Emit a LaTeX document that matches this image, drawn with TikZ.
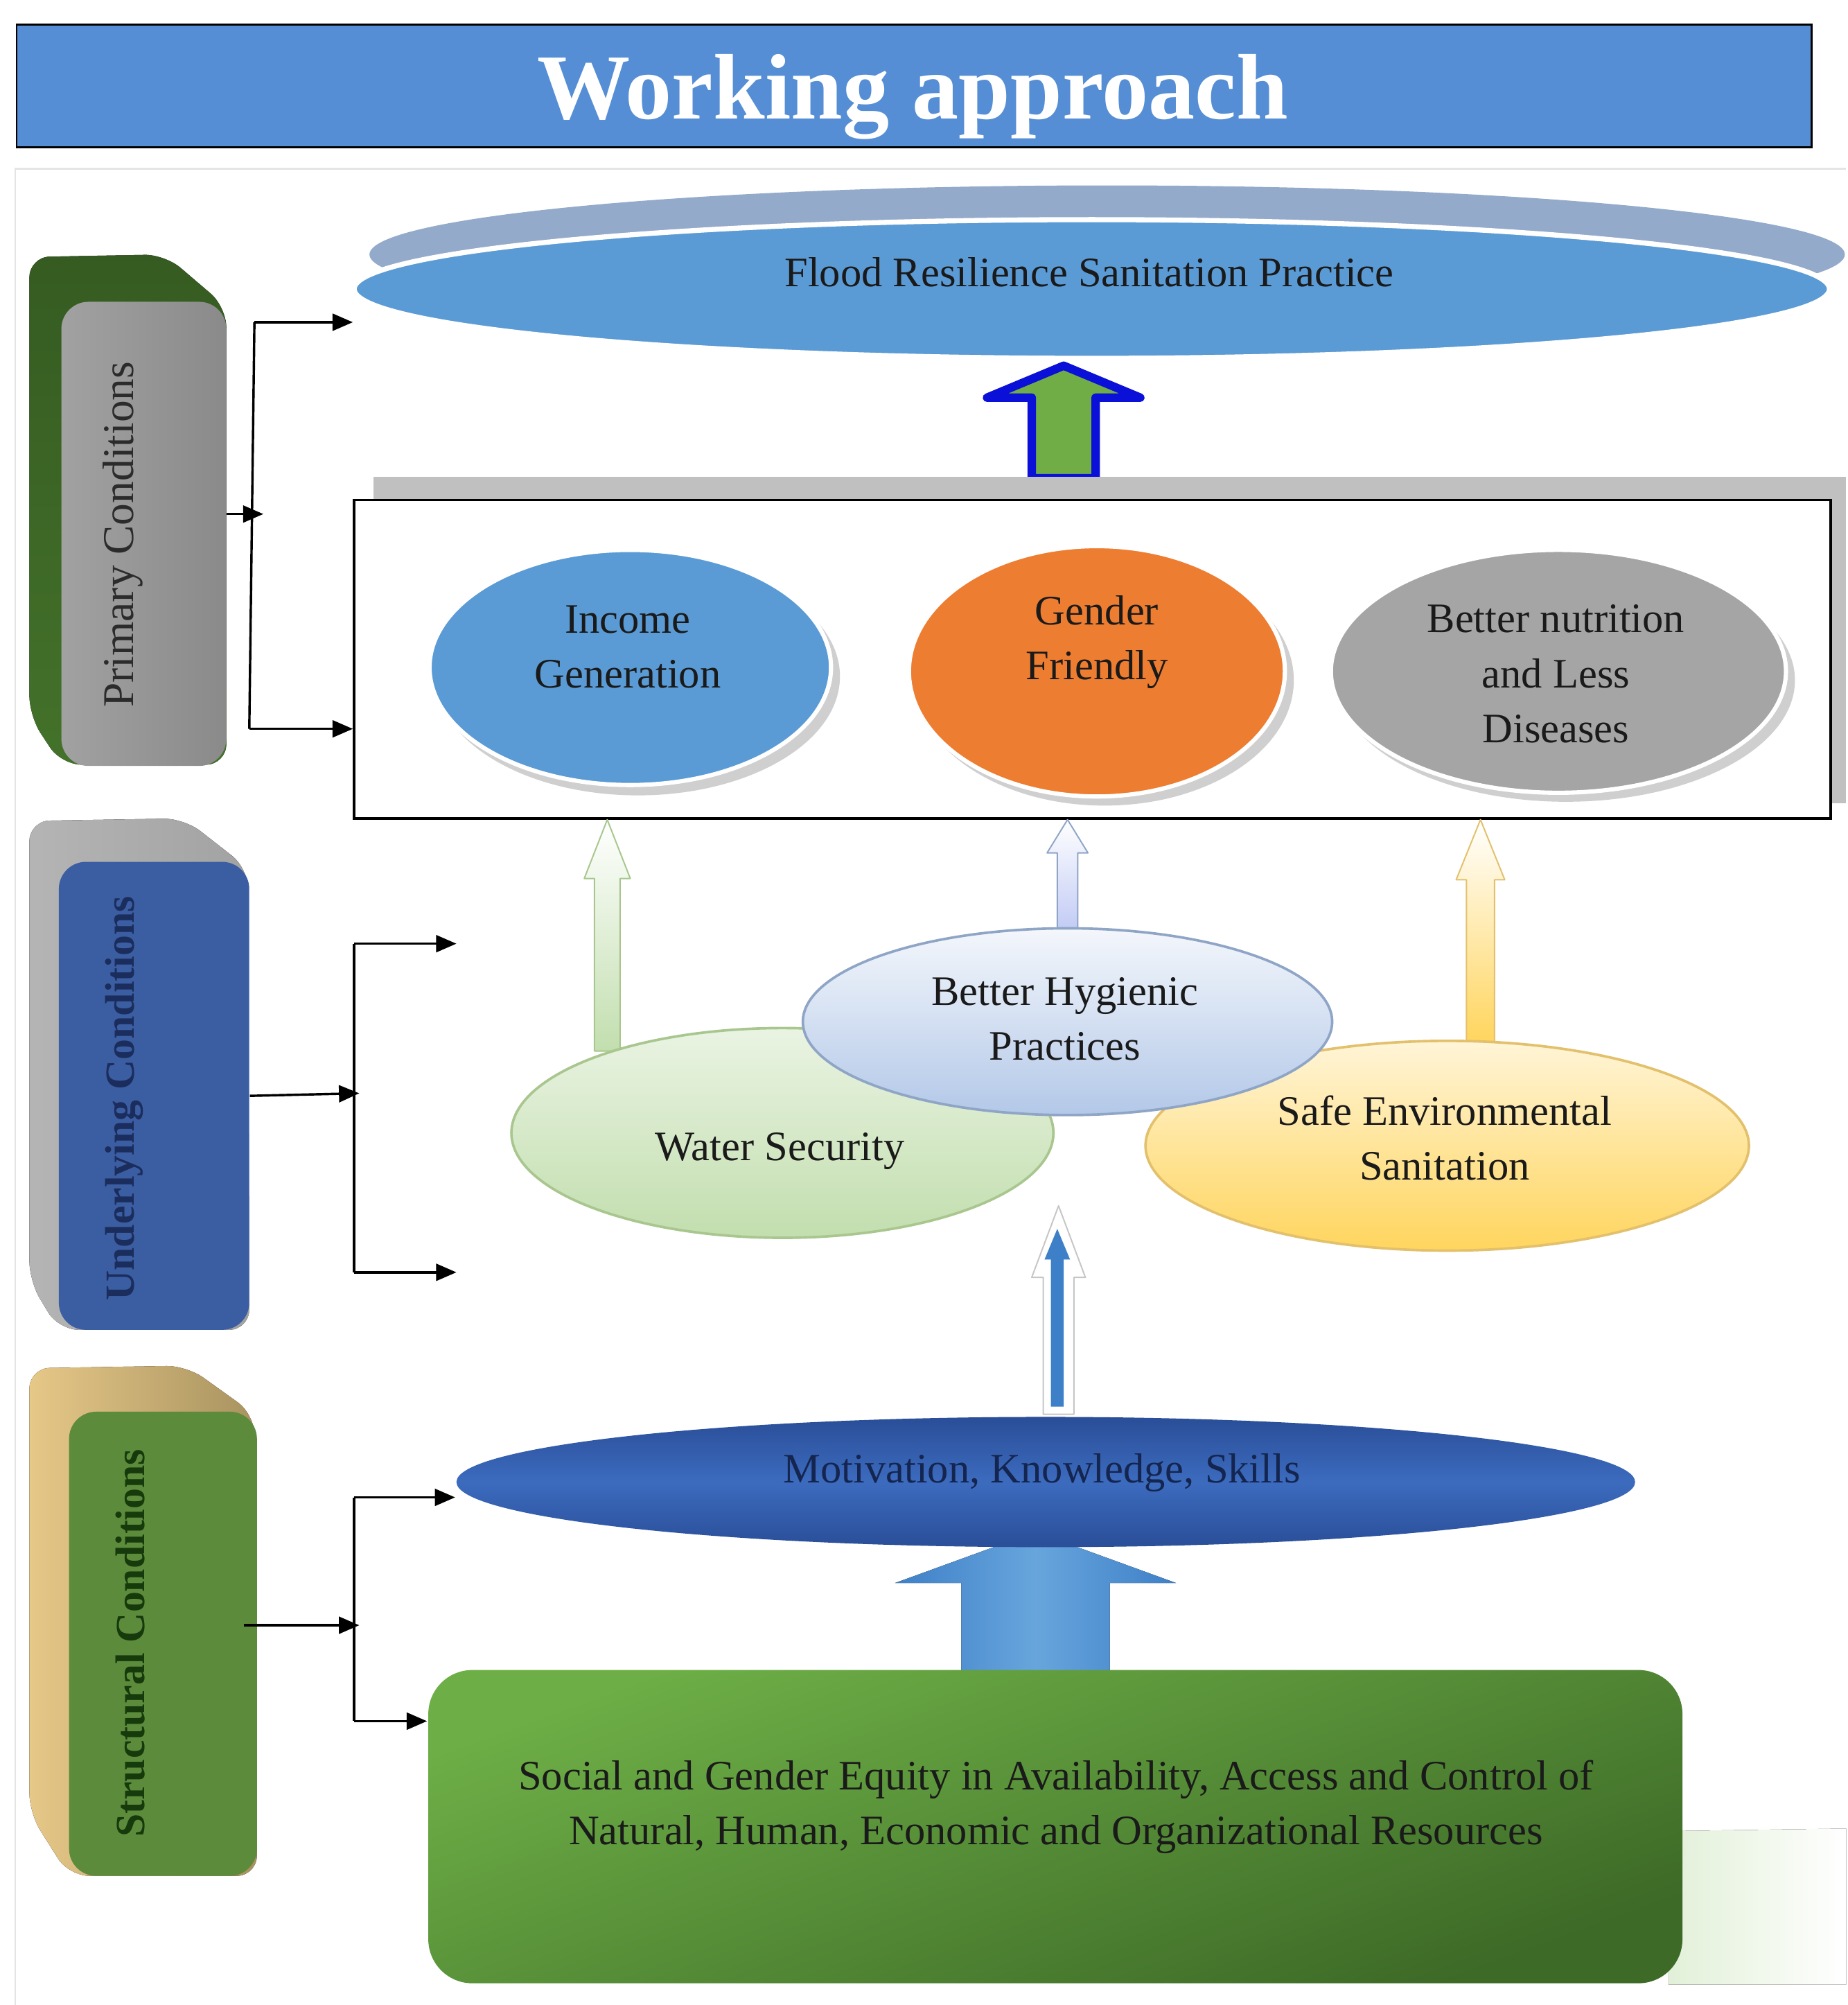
\documentclass[tikz,border=0pt]{standalone}
\usepackage{fontspec}
\setmainfont{Liberation Serif}
\usetikzlibrary{shapes.geometric,arrows.meta}

\definecolor{titleblue}{HTML}{558ED5}
\definecolor{framegray}{HTML}{E4E4E4}
\definecolor{floodblue}{HTML}{5B9BD5}
\definecolor{floodshadow}{HTML}{93AACA}
\definecolor{arrowblue}{HTML}{0A10D8}
\definecolor{arrowgreen}{HTML}{70AD47}
\definecolor{bargray}{HTML}{C0C0C0}
\definecolor{ringgray}{HTML}{CFCFCF}
\definecolor{incomeblue}{HTML}{5B9BD5}
\definecolor{genderorange}{HTML}{ED7D31}
\definecolor{nutritiongray}{HTML}{A5A5A5}
\definecolor{textdark}{HTML}{1A1A1A}
\definecolor{wsgreen}{HTML}{C2DEAE}
\definecolor{wsedge}{HTML}{A8C68E}
\definecolor{hygblue}{HTML}{B3C8E8}
\definecolor{hygedge}{HTML}{8FA5C6}
\definecolor{safeyellow}{HTML}{FFD55E}
\definecolor{safeedge}{HTML}{E2C06C}
\definecolor{skillsblue}{HTML}{3C6BBE}
\definecolor{skillsdark}{HTML}{2A4E98}
\definecolor{skillstext}{HTML}{14254F}
\definecolor{bigarrow}{HTML}{3E80C8}
\definecolor{bigarrowlight}{HTML}{67A5DC}
\definecolor{resgreen}{HTML}{6DAE46}
\definecolor{resdark}{HTML}{3D6A27}
\definecolor{resshadow}{HTML}{E2F0D8}
\definecolor{tabgray}{HTML}{8A8A8A}
\definecolor{tabblue}{HTML}{3B5EA3}
\definecolor{tabgreen}{HTML}{5C8B3B}
\definecolor{backgreen}{HTML}{43722A}
\definecolor{backgray}{HTML}{A2A2A2}
\definecolor{backtan}{HTML}{E6C888}
\definecolor{backtandark}{HTML}{A8925F}
\definecolor{labelgray}{HTML}{2B2B2B}
\definecolor{labelblue}{HTML}{1B2D5C}
\definecolor{labelgreen}{HTML}{163A0C}

\tikzset{every picture/.style={line width=0.75pt}}
\tikzset{
  conn/.style={line width=1.4pt,-{Triangle[length=12pt,width=10pt]}},
  busline/.style={line width=1.4pt},
  oval/.style={ellipse,inner sep=0pt},
  ovaltext/.style={align=center,text=textdark,font=\fontsize{24.8}{32.5}\selectfont},
  tabfront/.style={rectangle,rounded corners=16pt,inner sep=0pt},
  tablabel/.style={rotate=90,inner sep=0pt,font=\fontsize{24.5}{30}\selectfont\bfseries},
  thinup/.style={line width=0.8pt,line join=round},
}

\begin{document}
\begin{tikzpicture}[x=0.756pt,y=0.756pt,yscale=-1,xscale=1]
	\useasboundingbox (0,0) rectangle (1445,1568);

	%Title bar
	\draw [fill=titleblue,line width=1.2pt] (13,19) rectangle (1417,115);
	% Text Node
	\node [text=white,font=\fontsize{55}{60}\selectfont\bfseries] (title) at (714,76) {Working approach};

	%Frame
	\draw [framegray,line width=1pt] (12,1568) -- (12,132) -- (1444,132);

	%Shape: Ellipse (flood) with shadow
	\fill [floodshadow] (866,199) ellipse (577 and 54);
	\node [oval,fill=floodblue,draw=white,line width=3pt,minimum width=872.4pt,minimum height=82pt] (flood) at (854,226) {};
	% Text Node
	\node [ovaltext] (floodtext) at (852,213) {Flood Resilience Sanitation Practice};

	%Shape: Up Arrow
	\draw [line width=5pt,line join=round,draw=arrowblue,fill=arrowgreen] (832,286) -- (892,311) -- (857,311) -- (857,374) -- (807,374) -- (807,311) -- (772,311) -- cycle;

	%Shape: Rectangle (outcomes) with gray bar
	\fill [bargray] (292,373) rectangle (1444,628);
	\draw [line width=1.5pt,fill=white] (277,391) rectangle (1432,640);

	%Shape: Ellipse (income)
	\fill [ringgray] (499,529) ellipse (158 and 93);
	\node [oval,fill=incomeblue,draw=white,line width=2.5pt,minimum width=237.4pt,minimum height=139pt] (income) at (493,522) {};
	\node [ovaltext] (incometext) at (491,506) {Income\\Generation};
	%Shape: Ellipse (gender)
	\fill [ringgray] (864,532) ellipse (148 and 98);
	\node [oval,fill=genderorange,draw=white,line width=2.5pt,minimum width=222.3pt,minimum height=148pt] (gender) at (858,525) {};
	\node [ovaltext] (gendertext) at (858,502) {Gender\\Friendly};
	%Shape: Ellipse (nutrition)
	\fill [ringgray] (1225,532) ellipse (179 and 95);
	\node [oval,fill=nutritiongray,draw=white,line width=2.5pt,minimum width=269.1pt,minimum height=143.6pt] (nutrition) at (1219,525) {};
	\node [ovaltext] (nutritiontext) at (1217,527) {Better nutrition\\and Less\\Diseases};

	%Shape: thin up arrows
	\draw [thinup,draw=wsedge,top color=white,bottom color=wsgreen] (465,822) -- (465,687) -- (457,687) -- (475,641) -- (493,687) -- (485,687) -- (485,822) -- cycle;
	\draw [thinup,draw=hygedge,top color=white,bottom color=hygblue!80!blue!60] (827,735) -- (827,667) -- (819,667) -- (835,641) -- (851,667) -- (843,667) -- (843,735) -- cycle;
	\draw [thinup,draw=safeedge,top color=white,bottom color=safeyellow] (1147,815) -- (1147,688) -- (1139,688) -- (1158,641) -- (1177,688) -- (1169,688) -- (1169,815) -- cycle;

	%Shape: Ellipse (water)
	\node [oval,draw=wsedge,line width=1.5pt,top color=wsgreen!35,bottom color=wsgreen,minimum width=320.5pt,minimum height=124pt] (water) at (612,886) {};
	\node [ovaltext] (watertext) at (610,900) {Water Security};
	%Shape: Ellipse (safe)
	\node [oval,draw=safeedge,line width=1.5pt,top color=safeyellow!25,bottom color=safeyellow,minimum width=356.8pt,minimum height=124pt] (safe) at (1132,896) {};
	\node [ovaltext] (safetext) at (1130,890) {Safe Environmental\\Sanitation};
	%Shape: Ellipse (hygiene)
	\node [oval,draw=hygedge,line width=1.5pt,top color=hygblue!15,bottom color=hygblue,minimum width=313pt,minimum height=110.4pt] (hygiene) at (835,799) {};
	\node [ovaltext] (hygienetext) at (833,797) {Better Hygienic\\Practices};

	%Shape: Up Arrow (skills to middle)
	\draw [thinup,draw=gray!45,fill=white] (816,1106) -- (816,999) -- (807,999) -- (828,943) -- (849,999) -- (840,999) -- (840,1106) -- cycle;
	\fill [bigarrow] (822,1100) -- (822,985) -- (817,985) -- (827,961) -- (837,985) -- (832,985) -- (832,1100) -- cycle;

	%Shape: Block Arrow (resources to skills)
	\fill [shading=axis,left color=bigarrow,right color=bigarrow,middle color=bigarrowlight] (752,1310) -- (752,1238) -- (700,1238) -- (810,1198) -- (920,1238) -- (868,1238) -- (868,1310) -- cycle;

	%Shape: Ellipse (skills)
	\node [oval,top color=skillsdark,bottom color=skillsdark,middle color=skillsblue,minimum width=697pt,minimum height=77pt] (skills) at (818,1159) {};
	\node [ovaltext,text=skillstext] (skillstext) at (815,1152) {Motivation, Knowledge, Skills};

	%Shape: Rounded Rect (resources) with shadow
	\fill [left color=resshadow,right color=white] (1305,1432) -- (1444,1430) -- (1444,1552) -- (1305,1552) -- cycle;
	\node [rectangle,rounded corners=26pt,top color=resgreen,bottom color=resdark,shading angle=20,minimum width=741.6pt,minimum height=185.2pt] (resources) at (825.5,1428.5) {};
	\node [ovaltext] (resourcestext) at (826,1413) {Social and Gender Equity in Availability, Access and Control of\\Natural, Human, Economic and Organizational Resources};

	%Shape: Tab (primary)
	\fill [rounded corners=12pt,top color=backgreen!80!black,bottom color=backgreen] (23,201) -- (129,199) -- (177,240) -- (177,598) -- (48,598) -- (23,560) -- cycle;
	\node [tabfront,left color=tabgray!80!white,right color=tabgray,minimum width=97.5pt,minimum height=274.4pt] (primary) at (112.5,417.5) {};
	\node [tablabel,font=\fontsize{26}{30}\selectfont,text=labelgray] (primarytext) at (96,418) {Primary Conditions};
	%Shape: Tab (underlying)
	\fill [rounded corners=12pt,left color=backgray!80!white,right color=backgray] (23,642) -- (144,640) -- (194,679) -- (195,1040) -- (46,1040) -- (23,1002) -- cycle;
	\node [tabfront,fill=tabblue,minimum width=112.6pt,minimum height=276.7pt] (underlying) at (120.5,857) {};
	\node [tablabel,text=labelblue] (underlyingtext) at (97,859) {Underlying Conditions};
	%Shape: Tab (structural)
	\fill [rounded corners=12pt,left color=backtan,right color=backtandark] (23,1070) -- (146,1068) -- (199,1106) -- (201,1467) -- (54,1467) -- (23,1418) -- cycle;
	\node [tabfront,fill=tabgreen,minimum width=111.1pt,minimum height=274.4pt] (structural) at (127.5,1285.5) {};
	\node [tablabel,text=labelgreen] (structuraltext) at (102,1285) {Structural Conditions};

	%Connectors (primary)
	\coordinate (pbusT) at (199,252);
	\coordinate (pbusB) at (195,570);
	\coordinate (pbusM) at (206,402);
	\coordinate (pendT) at (276,252);
	\coordinate (pendB) at (276,570);
	\draw [busline] (pbusT) -- (pbusB);
	\draw [conn] (pbusT) -- (pendT);
	\draw [conn] (pbusB) -- (pendB);
	\draw [conn] (primary.east |- pbusM) -- (pbusM);
	%Connectors (underlying)
	\coordinate (ubusT) at (277,738);
	\coordinate (ubusB) at (277,995);
	\coordinate (ubusM) at (281,855);
	\coordinate (uendT) at (357,738);
	\coordinate (uendB) at (357,995);
	\draw [busline] (ubusT) -- (ubusB);
	\draw [conn] (ubusT) -- (uendT);
	\draw [conn] (ubusB) -- (uendB);
	\draw [conn] (underlying.east) -- (ubusM);
	%Connectors (structural)
	\coordinate (sbusT) at (277,1171);
	\coordinate (sbusB) at (277,1346);
	\coordinate (sbusM) at (281,1271);
	\coordinate (sendT) at (356,1171);
	\coordinate (sendB) at (334,1346);
	\draw [busline] (sbusT) -- (sbusB);
	\draw [conn] (sbusT) -- (sendT);
	\draw [conn] (sbusB) -- (sendB);
	\draw [conn] ([xshift=-8pt]structural.east |- sbusM) -- (sbusM);

\end{tikzpicture}
\end{document}
